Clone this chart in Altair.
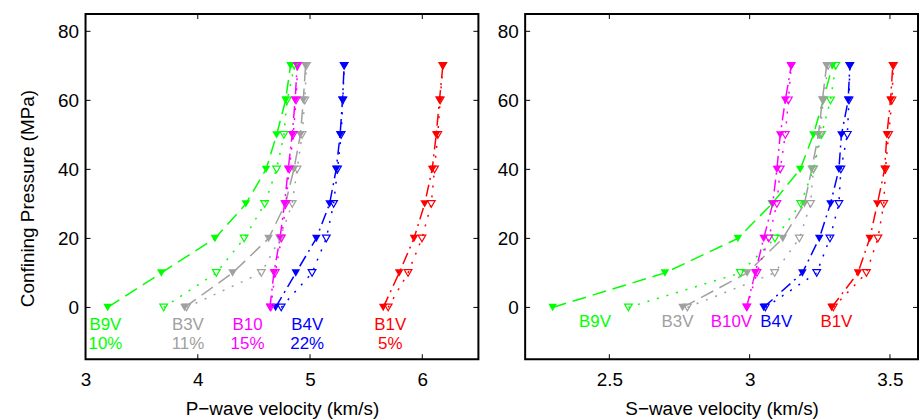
import altair as alt
import pandas as pd

pressure = [0, 10, 20, 30, 40, 50, 60, 70]
samples = ["B9V", "B3V", "B10", "B4V", "B1V"]
colors = ["#00ff00", "#a0a0a0", "#ff00ff", "#0000ff", "#ff0000"]

# P-wave velocity (km/s), loading (filled) and unloading (open)
vp_b9v_load = [3.197, 3.675, 4.153, 4.428, 4.608, 4.702, 4.782, 4.826]
vp_b9v_unload = [3.696, 4.165, 4.413, 4.596, 4.702, 4.767, 4.796, 4.860]
vp_b3v_load = [3.882, 4.310, 4.631, 4.780, 4.856, 4.914, 4.940, 4.960]
vp_b3v_unload = [3.900, 4.566, 4.732, 4.841, 4.885, 4.929, 4.953, 4.968]
vp_b10_load = [4.643, 4.678, 4.732, 4.773, 4.805, 4.841, 4.867, 4.885]
vp_b10_unload = [4.650, 4.690, 4.745, 4.785, 4.815, 4.850, 4.875, 4.890]
vp_b4v_load = [4.693, 4.873, 5.056, 5.174, 5.233, 5.268, 5.289, 5.304]
vp_b4v_unload = [4.743, 5.018, 5.145, 5.210, 5.245, 5.277, 5.292, 5.304]
vp_b1v_load = [5.652, 5.794, 5.926, 6.021, 6.088, 6.124, 6.153, 6.183]
vp_b1v_unload = [5.696, 5.873, 5.997, 6.080, 6.109, 6.138, 6.159, 6.183]

# S-wave velocity (km/s)
vs_b9v_load = [2.298, 2.698, 2.958, 3.079, 3.180, 3.227, 3.262, 3.295]
vs_b9v_unload = [2.568, 2.967, 3.090, 3.182, 3.227, 3.256, 3.288, 3.307]
vs_b3v_load = [2.761, 2.991, 3.118, 3.195, 3.221, 3.245, 3.259, 3.274]
vs_b3v_unload = [2.778, 3.089, 3.177, 3.217, 3.227, 3.251, 3.262, 3.280]
vs_b10_load = [2.989, 3.020, 3.050, 3.082, 3.097, 3.109, 3.127, 3.148]
vs_b10_unload = [2.990, 3.026, 3.068, 3.097, 3.109, 3.127, 3.138, 3.148]
vs_b4v_load = [3.050, 3.188, 3.248, 3.288, 3.318, 3.327, 3.351, 3.357]
vs_b4v_unload = [3.056, 3.239, 3.286, 3.318, 3.325, 3.348, 3.354, 3.357]
vs_b1v_load = [3.292, 3.386, 3.428, 3.455, 3.481, 3.489, 3.502, 3.510]
vs_b1v_unload = [3.298, 3.416, 3.457, 3.478, 3.484, 3.495, 3.507, 3.512]

# annotation labels
p_names = ["B9V", "B3V", "B10", "B4V", "B1V"]
p_porosity = ["10%", "11%", "15%", "22%", "5%"]
p_label_x = [3.177, 3.912, 4.443, 4.975, 5.715]
s_names = ["B9V", "B3V", "B10V", "B4V", "B1V"]
s_label_x = [2.449, 2.743, 2.935, 3.095, 3.309]

FONT = "Liberation Sans"
FS = 19
W, H = 395, 347
color_scale = alt.Scale(domain=samples, range=colors)


def build_df(series):
    rows = []
    for s, (load, unload) in zip(samples, series):
        for p, v in zip(pressure, load):
            rows.append({"sample": s, "kind": "load", "P": p, "v": v})
        for p, v in zip(pressure, unload):
            rows.append({"sample": s, "kind": "unload", "P": p, "v": v})
    return pd.DataFrame(rows)


dfp = build_df([(vp_b9v_load, vp_b9v_unload), (vp_b3v_load, vp_b3v_unload),
                (vp_b10_load, vp_b10_unload), (vp_b4v_load, vp_b4v_unload),
                (vp_b1v_load, vp_b1v_unload)])
dfs = build_df([(vs_b9v_load, vs_b9v_unload), (vs_b3v_load, vs_b3v_unload),
                (vs_b10_load, vs_b10_unload), (vs_b4v_load, vs_b4v_unload),
                (vs_b1v_load, vs_b1v_unload)])

lbl_p = pd.DataFrame(
    [{"sample": s, "t": n, "v": x, "P": -5.0} for s, n, x in zip(samples, p_names, p_label_x)]
    + [{"sample": s, "t": n, "v": x, "P": -10.5} for s, n, x in zip(samples, p_porosity, p_label_x)]
)
lbl_s = pd.DataFrame(
    [{"sample": s, "t": n, "v": x, "P": -4.2} for s, n, x in zip(samples, s_names, s_label_x)]
)


def panel(df, lbl, xdom, xticks, xtitle, ytitle):
    xs = alt.Scale(domain=xdom, nice=False, zero=False)
    ys = alt.Scale(domain=[-15, 85], nice=False, zero=False)
    xaxis = alt.Axis(values=xticks, format="~g", title=xtitle, grid=False, domain=False, ticks=False,
                     tickSize=0, labelPadding=11, labelFontSize=FS, labelFont=FONT,
                     labelColor="black", titleFont=FONT, titleFontSize=FS,
                     titleFontWeight="normal", titleColor="black",
                     titleY=56, titleBaseline="alphabetic",
                     labelFlush=False)
    if ytitle:
        yaxis = alt.Axis(values=[0, 20, 40, 60, 80], title=ytitle, grid=False, domain=False,
                         ticks=False, tickSize=0, labelPadding=7, labelFontSize=FS,
                         labelFont=FONT, labelColor="black", titleFont=FONT,
                         titleFontSize=FS, titleFontWeight="normal", titleColor="black",
                         titleX=-52, titleY=185, titleBaseline="alphabetic", titleAngle=270)
    else:
        yaxis = alt.Axis(values=[0, 20, 40, 60, 80], title=None, grid=False, domain=False,
                         ticks=False, tickSize=0, labelPadding=7, labelFontSize=FS,
                         labelFont=FONT, labelColor="black")
    X = alt.X("v:Q", scale=xs, axis=xaxis)
    Y = alt.Y("P:Q", scale=ys, axis=yaxis)
    C = alt.Color("sample:N", scale=color_scale, legend=None)

    base = alt.Chart(df)
    dashed = base.transform_filter(
        "datum.kind == 'load' && (datum.sample == 'B9V' || datum.sample == 'B3V')"
    ).mark_line(strokeWidth=1.5, strokeDash=[14, 7]).encode(x=X, y=Y, color=C, detail="sample:N", order="P:Q")
    dashdot = base.transform_filter(
        "datum.kind == 'load' && datum.sample != 'B9V' && datum.sample != 'B3V'"
    ).mark_line(strokeWidth=1.5, strokeDash=[12, 5, 2, 5]).encode(x=X, y=Y, color=C, detail="sample:N", order="P:Q")
    dotted = base.transform_filter("datum.kind == 'unload'").mark_line(
        strokeWidth=1.5, strokeDash=[2, 8]).encode(x=X, y=Y, color=C, detail="sample:N", order="P:Q")
    pts_f = base.transform_filter("datum.kind == 'load'").mark_point(
        shape="triangle-down", filled=True, size=75, opacity=1, strokeWidth=1).encode(x=X, y=Y, color=C)
    pts_o = base.transform_filter("datum.kind == 'unload'").mark_point(
        shape="triangle-down", filled=False, size=60, opacity=1, strokeWidth=1.2).encode(x=X, y=Y, color=C)
    texts = alt.Chart(lbl).mark_text(fontSize=17, font=FONT, align="center", baseline="middle").encode(
        x=X, y=Y, text="t:N", color=C)

    xt = pd.DataFrame({"v": xticks})
    yt = pd.DataFrame({"P": [0, 20, 40, 60, 80]})
    tk = dict(color="black", strokeWidth=1)
    xb = alt.Chart(xt).mark_rule(**tk).encode(x=alt.X("v:Q", scale=xs), y=alt.value(H), y2=alt.value(H - 5))
    xtop = alt.Chart(xt).mark_rule(**tk).encode(x=alt.X("v:Q", scale=xs), y=alt.value(0), y2=alt.value(5))
    yl = alt.Chart(yt).mark_rule(**tk).encode(y=alt.Y("P:Q", scale=ys), x=alt.value(0), x2=alt.value(5))
    yr = alt.Chart(yt).mark_rule(**tk).encode(y=alt.Y("P:Q", scale=ys), x=alt.value(W - 5), x2=alt.value(W))

    return alt.layer(dashed, dashdot, dotted, pts_f, pts_o, texts, xb, xtop, yl, yr).properties(
        width=W, height=H)


left = panel(dfp, lbl_p, [3, 6.5], [3, 4, 5, 6], "P\u2212wave velocity (km/s)",
             "Confining Pressure (MPa)")
right = panel(dfs, lbl_s, [2.2, 3.6], [2.5, 3, 3.5], "S\u2212wave velocity (km/s)", None)

chart = alt.hconcat(left, right, spacing=15).properties(
    padding={"left": 18, "top": 11, "right": 2, "bottom": 0},
    background="white",
).configure_view(stroke="black", strokeWidth=2).configure_concat(spacing=15)

chart.save("out.html", embed_options={"renderer": "svg", "actions": False})
